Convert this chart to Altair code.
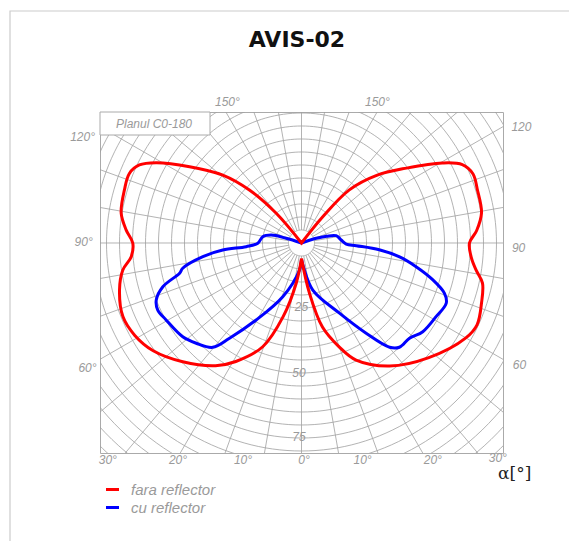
import altair as alt
import numpy as np
import pandas as pd

# ---- data (angle from nadir in degrees, intensity in cd/klm) ----
red_right_angle = [0, 9, 14, 20, 25, 35.6, 48, 60, 65, 71.5, 77.5, 81, 85, 90, 94, 99.5, 107, 112, 116, 119.6, 125.5, 132, 138, 141, 144]
red_right_value = [6, 19.5, 33.3, 42.6, 49.7, 58.2, 65.9, 73, 74.5, 73, 71.3, 68.1, 65.6, 64.6, 67.5, 70.2, 70.7, 71.1, 68.8, 62.3, 49.6, 38.9, 27.5, 13, 0]
red_left_angle = [0, 7.5, 14, 20.5, 29, 35, 45, 54, 61, 67.6, 75.5, 81.4, 85.4, 90, 94.2, 99.4, 106.7, 112, 115.7, 118.9, 124.3, 130.8, 135.5, 139.6, 143]
red_left_value = [6, 15.6, 29.2, 42.6, 52.1, 57.6, 64.6, 70.5, 73.3, 74.3, 72.3, 69.5, 65.7, 64.9, 67.6, 70.3, 71.1, 71.4, 69.2, 63.9, 52.1, 40, 28.6, 15, 0]
blue_right_angle = [0, 5, 13.5, 28.4, 35.6, 40.2, 43.2, 48.6, 53.8, 61.3, 67.4, 70.6, 74.3, 78.3, 81.9, 85, 87.2, 88.7, 94.3, 101.9, 105, 108, 111]
blue_right_value = [6.3, 9.5, 18.6, 30.7, 42.7, 52.5, 55, 55.4, 57.8, 59, 60.3, 58.3, 52.5, 45, 38.1, 30, 21.1, 17.2, 15.3, 13.6, 10, 5.5, 0]
blue_left_angle = [0, 4.2, 19.2, 30.5, 37.1, 40.4, 46.4, 51.7, 60.4, 65, 68.6, 72.5, 76.1, 78, 82.1, 84.9, 86.2, 89.6, 99.2, 104.8, 107.1, 110]
blue_left_value = [6.3, 10.4, 21.9, 34.4, 45.9, 52.7, 55.9, 58.2, 59.9, 61, 60, 55.9, 48.3, 46.7, 38.3, 30.4, 21.3, 16.8, 15.1, 12, 6.2, 0]

series_names = ["fara reflector", "cu reflector"]
series_colors = ["#ff0000", "#0000ff"]

ring_values = list(range(5, 120, 5))
radial_angles = list(range(0, 360, 10))

# label texts with their (x, y) positions in intensity units
label_text = ["150°", "150°", "120°", "120", "90°", "90", "60°", "60",
              "30°", "20°", "10°", "0°", "10°", "20°", "30°", "25", "50", "75"]
label_x = [-28.5, 29.2, -84.2, 84.6, -83.8, 83.5, -82.3, 83.8,
           -74.5, -47.5, -22.5, 1.0, 23.5, 50.5, 75.5, 0.0, -1.0, -1.0]
label_y = [54.2, 54.2, 40.8, 44.6, 0.3, -1.9, -48.0, -47.0,
           -83.6, -83.6, -83.6, -83.6, -83.6, -83.6, -82.6, -24.6, -50.0, -74.6]

XDOM = [-77.5, 77.5]
YDOM = [-80.77, 50.38]


def half(angles, values, side):
    a = np.radians(np.array(angles, dtype=float))
    r = np.array(values, dtype=float)
    return side * r * np.sin(a), -r * np.cos(a)


def curve_frame(name, ra, rv, la, lv):
    xr, yr = half(ra, rv, 1)
    xl, yl = half(la, lv, -1)
    xs = np.concatenate([xr, xl[::-1]])
    ys = np.concatenate([yr, yl[::-1]])
    return pd.DataFrame({"x": xs, "y": ys, "i": np.arange(len(xs)), "series": name})


red_df = curve_frame(series_names[0], red_right_angle, red_right_value, red_left_angle, red_left_value)
blue_df = curve_frame(series_names[1], blue_right_angle, blue_right_value, blue_left_angle, blue_left_value)

# grid
ring_rows = []
t = np.radians(np.arange(0, 361, 2))
for rv in ring_values:
    for k, tt in enumerate(t):
        ring_rows.append({"x": rv * np.sin(tt), "y": rv * np.cos(tt), "i": k, "g": rv})
ring_df = pd.DataFrame(ring_rows)

rad_rows = []
for a in radial_angles:
    ar = np.radians(a)
    for k, rr in enumerate([5, 140]):
        rad_rows.append({"x": rr * np.sin(ar), "y": -rr * np.cos(ar), "i": k, "g": a})
rad_df = pd.DataFrame(rad_rows)

labels_df = pd.DataFrame({"text": label_text, "x": label_x, "y": label_y})

xs = alt.Scale(domain=XDOM, nice=False, zero=False)
ys = alt.Scale(domain=YDOM, nice=False, zero=False)
X = alt.X("x:Q", scale=xs, axis=None)
Y = alt.Y("y:Q", scale=ys, axis=None)

grid_color = "#a0a0a0"
rings = alt.Chart(ring_df).mark_line(clip=True, color=grid_color, strokeWidth=0.8).encode(
    x=X, y=Y, detail="g:N", order="i:Q")
radials = alt.Chart(rad_df).mark_line(clip=True, color=grid_color, strokeWidth=0.8).encode(
    x=X, y=Y, detail="g:N", order="i:Q")

color_scale = alt.Scale(domain=series_names, range=series_colors)
leg = alt.Legend(title=None, orient="none", legendX=4, legendY=369, symbolType="stroke",
                 symbolSize=170, symbolStrokeWidth=3, labelFont="Liberation Sans",
                 labelFontStyle="italic", labelFontSize=15, labelColor="#9a9a9a",
                 labelOffset=10, padding=0, rowPadding=1)

blue_layer = alt.Chart(blue_df).mark_line(interpolate="catmull-rom", strokeWidth=3, clip=True).encode(
    x=X, y=Y, order="i:Q",
    color=alt.Color("series:N", scale=color_scale, legend=leg))
red_layer = alt.Chart(red_df).mark_line(interpolate="catmull-rom", strokeWidth=3, clip=True).encode(
    x=X, y=Y, order="i:Q",
    color=alt.Color("series:N", scale=color_scale, legend=leg))

labels = alt.Chart(labels_df).mark_text(font="Liberation Sans", fontStyle="italic", fontSize=12,
                                        color="#9a9a9a", baseline="middle", align="center").encode(
    x=X, y=Y, text="text:N")

alpha_label = alt.Chart(pd.DataFrame({"text": ["α[°]"], "x": [82.0], "y": [-88.8]})).mark_text(
    font="DejaVu Serif", fontSize=17, color="#222222", baseline="middle", align="center").encode(
    x=X, y=Y, text="text:N")

title_text = alt.Chart(pd.DataFrame({"text": ["AVIS-02"]})).mark_text(
    font="DejaVu Sans", fontSize=22, fontWeight="bold", color="#111111",
    baseline="middle", align="center").encode(
    x=alt.value(197), y=alt.value(-72), text="text:N")

plane_box = alt.Chart(pd.DataFrame({"a": [0]})).mark_rect(
    fill="white", stroke="#aaaaaa", strokeWidth=1).encode(
    x=alt.value(0), x2=alt.value(110), y=alt.value(0), y2=alt.value(23))
plane_text = alt.Chart(pd.DataFrame({"text": ["Planul C0-180"]})).mark_text(
    font="Liberation Sans", fontStyle="italic", fontSize=12, color="#9a9a9a",
    baseline="middle", align="center").encode(
    x=alt.value(54), y=alt.value(12), text="text:N")

frame = alt.Chart(pd.DataFrame({"a": [0]})).mark_rect(
    fillOpacity=0, stroke="#cccccc", strokeWidth=1.2).encode(
    x=alt.value(-90), x2=alt.value(900), y=alt.value(-101), y2=alt.value(900))

chart = alt.layer(frame, rings, radials, blue_layer, red_layer, labels, alpha_label,
                  title_text, plane_box, plane_text).properties(
    width=403, height=341,
    padding={"left": 92, "top": 104, "right": 66, "bottom": 88},
    autosize="none",
).configure_view(stroke="#aaaaaa", strokeWidth=1)

chart.save("out.html", embed_options={"renderer": "svg", "actions": False})
